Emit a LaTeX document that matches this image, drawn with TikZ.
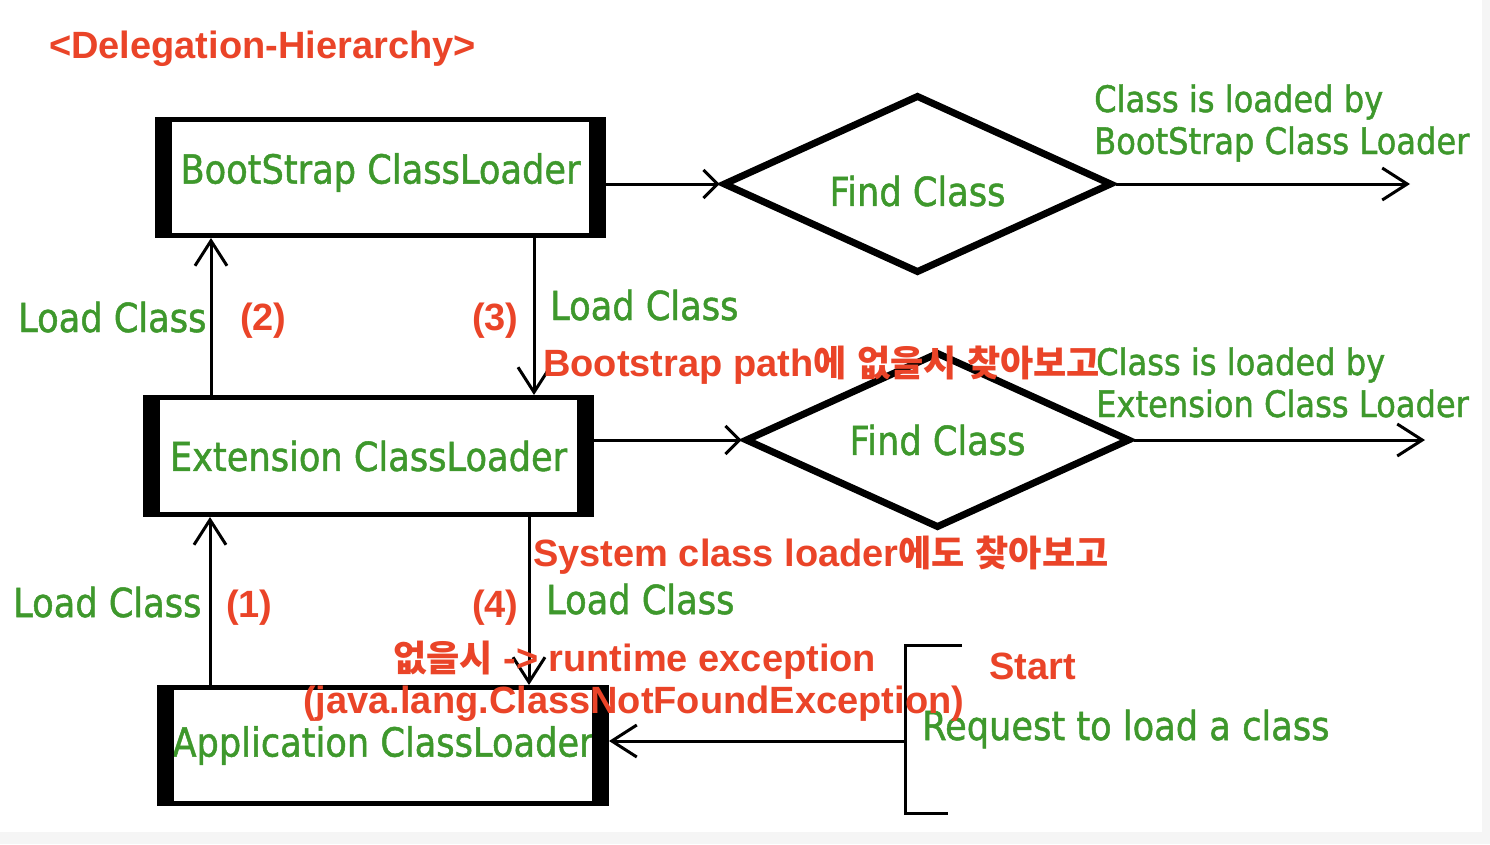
\documentclass[tikz,border=0pt]{standalone}
\usepackage{amsmath, amssymb}
\usepackage{fontspec}
\usepackage{tikz}
\usetikzlibrary{arrows.meta,shapes.geometric}
\setmainfont{DejaVu Sans}[FakeStretch=0.88,FakeBold=1.2]
\newfontfamily\redfont{Liberation Sans}
\newfontfamily\kofont{Noto Sans CJK KR}[Scale=0.95]
\definecolor{lblgreen}{RGB}{62,152,44}
\definecolor{lblred}{RGB}{234,68,40}
\newcommand{\ko}[1]{{\kofont\bfseries #1}}
\newcommand{\shifttext}[2]{\raisebox{#1}[\height][\depth]{#2}}
\tikzset{
	loader/.style={draw, line width=5pt, fill=white, inner sep=0pt, text=lblgreen, font=\fontsize{40}{44}\selectfont},
	finder/.style={diamond, draw, line width=7pt, fill=white, inner sep=0pt, aspect=2.2, text=lblgreen, font=\fontsize{40}{44}\selectfont},
	flow/.style={line width=3pt, -{Straight Barb[length=25pt,width=32pt]}},
	short flow/.style={line width=3pt, -{Straight Barb[length=14pt,width=28pt]}},
	glabel/.style={inner sep=0pt, anchor=base west, text=lblgreen, font=\fontsize{40}{44}\selectfont},
	slabel/.style={glabel, align=left, font=\fontsize{36.5}{42}\selectfont},
	rlabel/.style={inner sep=0pt, anchor=base west, text=lblred, font=\redfont\bfseries\fontsize{38}{42}\selectfont},
}
\begin{document}
\begin{tikzpicture}[x=1pt,y=-1pt]
			\fill[white] (0,0) rectangle (1490,844);
			\fill[black!4] (0,832) rectangle (1490,844);
			\fill[black!4] (1482,0) rectangle (1490,832);
			\useasboundingbox (0,0) rectangle (1490,844);
			\node[loader, minimum width=446, minimum height=116] (boot) at (380.5,177.5) {\shifttext{5pt}{BootStrap ClassLoader}};
			\node[loader, minimum width=446, minimum height=117] (ext) at (368.5,456) {Extension ClassLoader};
			\node[loader, minimum width=447, minimum height=116] (app) at (383,745.5) {Application ClassLoader};
			\foreach \b in {boot,ext,app} {
				\fill (\b.north west) rectangle ([xshift=17pt]\b.south west);
				\fill ([xshift=-17pt]\b.north east) rectangle (\b.south east);
			}
			\node[finder, minimum width=389, minimum height=178] (d1) at (917.5,184) {\shifttext{-7pt}{Find Class}};
			\node[finder, minimum width=385, minimum height=176] (d2) at (937.5,440) {Find Class};
			\coordinate (out1) at (1410,184);
			\coordinate (out2) at (1425,440);
			\coordinate (req) at (905,741);
			\draw[short flow] (boot.east |- d1.west) -- (d1.west);
			\draw[short flow] (ext.east |- d2.west) -- (d2.west);
			\draw[flow] (d1.east) -- (out1);
			\draw[flow] (d2.east) -- (out2);
			\draw[flow] ([xshift=68pt]ext.north west) -- ([xshift=68pt]ext.north west |- boot.south);
			\draw[flow] ([xshift=-72pt]boot.south east) -- ([xshift=-72pt]boot.south east |- ext.north);
			\draw[flow] ([xshift=53pt]app.north west) -- ([xshift=53pt]app.north west |- ext.south);
			\draw[flow] ([xshift=-65pt]ext.south east) -- ([xshift=-65pt]ext.south east |- app.north);
			\draw[line width=3pt] (962,645) -| (905,813) -- (948,813);
			\draw[flow] (req) -- (req -| app.east);
			\node[glabel] (load2) at (18,332) {Load Class};
			\node[glabel] (load3) at (550,320) {Load Class};
			\node[glabel] (load1) at (13,617) {Load Class};
			\node[glabel] (load4) at (546,614) {Load Class};
			\node[slabel] (byboot) at (1094,154) {Class is loaded by\\BootStrap Class Loader};
			\node[slabel] (byext) at (1096,417) {Class is loaded by\\Extension Class Loader};
			\node[glabel] (request) at (922,740) {Request to load a class};
			\node[rlabel] (title) at (49,58) {<Delegation-Hierarchy>};
			\node[rlabel] (step2) at (240,330) {(2)};
			\node[rlabel] (step3) at (472,330) {(3)};
			\node[rlabel] (step1) at (226,617) {(1)};
			\node[rlabel] (step4) at (472,617) {(4)};
			\node[rlabel] (bootnote) at (543,376) {Bootstrap path\ko{에} \ko{없을시} \ko{찾아보고}};
			\node[rlabel] (sysnote) at (533,566) {System class loader\ko{에도} \ko{찾아보고}};
			\node[rlabel] (failnote) at (393,671) {\ko{없을시} -> runtime exception};
			\node[rlabel] (excnote) at (303,713) {(java.lang.ClassNotFoundException)};
			\node[rlabel] (start) at (989,679) {Start};
\end{tikzpicture}
\end{document}
